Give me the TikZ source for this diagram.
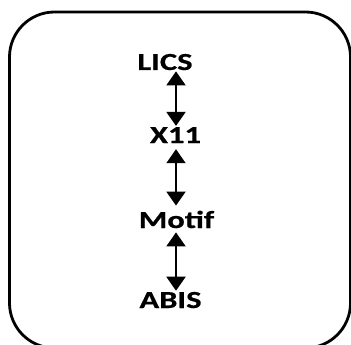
\documentclass[tikz,border=0pt]{standalone}
\usepackage{fontspec}
\setmainfont{Carlito}[FakeStretch=1.33, BoldFeatures={FakeBold=0.6}]
\usetikzlibrary{arrows.meta}
\tikzset{
  lbl/.style={font=\fontsize{24.5}{28}\selectfont\bfseries, inner sep=0pt, anchor=base},
  dbl/.style={line width=2pt, {Triangle[width=19pt,length=14pt]}-{Triangle[width=19pt,length=14pt]}},
  frame/.style={line width=2.8pt, rounded corners=45pt}
}
\begin{document}
\begin{tikzpicture}[x=1pt,y=-1pt]
\useasboundingbox (0,0) rectangle (351,345);
\draw[frame] (9.5,12) rectangle (350.5,348);
\node[lbl] (lics) at (165,70) {LICS};
\node[lbl] (x11) at (175.5,143) {X11};
\node[lbl] (motif) at (176.5,228) {Motif};
\node[lbl] (abis) at (170.5,308) {ABIS};
\coordinate (ax) at (176,0);
\draw[dbl, shorten <=1pt, shorten >=1pt] (lics.south -| ax) -- (x11.north -| ax);
\draw[dbl, shorten <=6pt, shorten >=5pt] (x11.south -| ax) -- (motif.north -| ax);
\draw[dbl, shorten <=4pt, shorten >=1pt] (motif.south -| ax) -- (abis.north -| ax);
\end{tikzpicture}
\end{document}
